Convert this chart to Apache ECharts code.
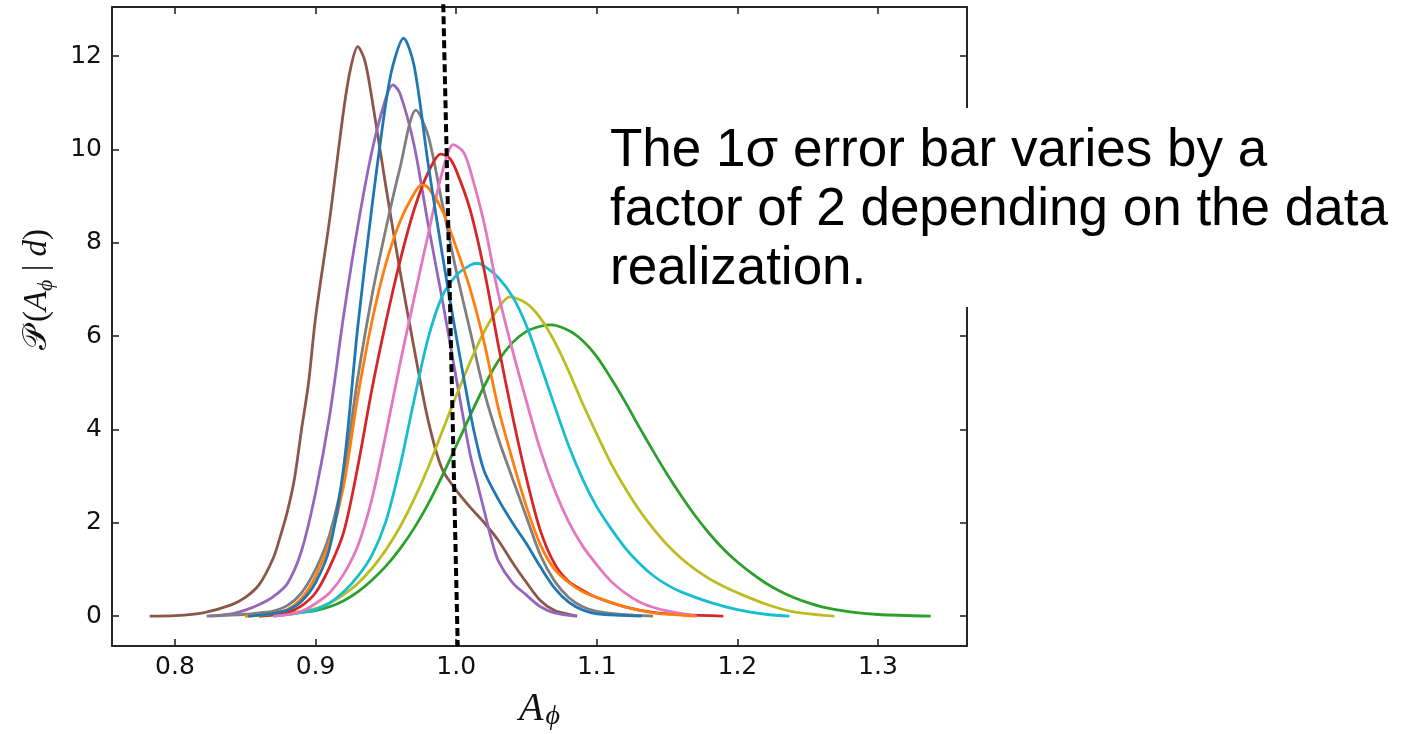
<!DOCTYPE html>
<html>
<head>
<meta charset="utf-8">
<script src="https://cdn.jsdelivr.net/npm/echarts@6/dist/echarts.min.js"></script>
<style>
  html, body { margin: 0; padding: 0; background: #ffffff; }
  #chart { width: 1405px; height: 734px; }
</style>
</head>
<body>
<div id="chart"></div>
<script>
// Tick positions
const xTicks = [0.8, 0.9, 1.0, 1.1, 1.2, 1.3];
const yTicks = [0, 2, 4, 6, 8, 10, 12];

// Posterior curves P(A_phi | d), one per data realization: [A_phi, density]
const curveBrown = [[0.782,0],[0.80,0.01],[0.82,0.07],[0.84,0.24],[0.85,0.4],[0.86,0.68],[0.87,1.25],[0.875,1.72],[0.88,2.25],[0.885,2.95],[0.89,4.0],[0.895,5.0],[0.90,6.4],[0.91,8.5],[0.92,10.85],[0.925,11.75],[0.93,12.2],[0.935,11.9],[0.94,11.1],[0.95,9.2],[0.96,7.4],[0.97,5.75],[0.98,4.2],[0.99,3.15],[1.00,2.7],[1.01,2.33],[1.02,2.0],[1.03,1.62],[1.04,1.15],[1.05,0.72],[1.06,0.33],[1.07,0.12],[1.08,0.04],[1.086,0]];
const curvePurple = [[0.8225,0],[0.84,0.05],[0.85,0.13],[0.86,0.25],[0.87,0.42],[0.88,0.7],[0.89,1.4],[0.90,2.65],[0.91,4.3],[0.92,6.45],[0.93,8.35],[0.94,9.95],[0.95,11.1],[0.955,11.38],[0.96,11.2],[0.97,10.1],[0.98,8.4],[0.99,6.8],[1.00,5.1],[1.01,3.45],[1.015,2.85],[1.02,2.25],[1.025,1.65],[1.03,1.18],[1.04,0.72],[1.05,0.45],[1.06,0.2],[1.07,0.07],[1.085,0]];
const curveGray = [[0.825,0],[0.85,0.04],[0.86,0.07],[0.87,0.11],[0.88,0.23],[0.89,0.5],[0.90,1.0],[0.91,1.75],[0.92,3.05],[0.93,5.1],[0.94,6.85],[0.95,8.3],[0.96,9.6],[0.9714,10.84],[0.98,10.3],[0.99,8.85],[1.00,7.4],[1.01,6.1],[1.02,4.8],[1.03,3.8],[1.04,2.95],[1.05,2.12],[1.06,1.3],[1.07,0.75],[1.08,0.4],[1.09,0.2],[1.10,0.1],[1.12,0.03],[1.14,0]];
const curveGreen = [[0.86,0],[0.88,0.05],[0.90,0.12],[0.91,0.2],[0.92,0.33],[0.93,0.52],[0.94,0.77],[0.95,1.07],[0.96,1.44],[0.97,1.88],[0.98,2.4],[0.99,3.0],[1.00,3.65],[1.01,4.3],[1.02,4.93],[1.03,5.47],[1.04,5.86],[1.05,6.1],[1.06,6.21],[1.067,6.24],[1.08,6.12],[1.09,5.9],[1.10,5.56],[1.11,5.1],[1.12,4.6],[1.13,4.06],[1.14,3.54],[1.15,3.04],[1.16,2.58],[1.17,2.15],[1.18,1.77],[1.19,1.44],[1.20,1.16],[1.21,0.92],[1.22,0.71],[1.23,0.54],[1.24,0.4],[1.25,0.29],[1.26,0.2],[1.28,0.09],[1.30,0.035],[1.3375,0]];
const curveOlive = [[0.85,0],[0.87,0.04],[0.89,0.1],[0.90,0.16],[0.91,0.28],[0.92,0.46],[0.93,0.7],[0.94,1.02],[0.95,1.42],[0.96,1.91],[0.97,2.5],[0.98,3.18],[0.99,3.95],[1.00,4.72],[1.01,5.45],[1.02,6.1],[1.03,6.6],[1.038,6.84],[1.05,6.7],[1.06,6.38],[1.07,5.88],[1.08,5.25],[1.09,4.55],[1.10,3.9],[1.11,3.28],[1.12,2.75],[1.13,2.28],[1.14,1.88],[1.15,1.53],[1.16,1.24],[1.17,1.0],[1.18,0.8],[1.19,0.64],[1.20,0.5],[1.22,0.26],[1.24,0.09],[1.269,0]];
const curveCyan = [[0.87,0],[0.88,0.03],[0.89,0.08],[0.90,0.14],[0.91,0.28],[0.92,0.52],[0.93,0.85],[0.94,1.3],[0.95,2.03],[0.96,3.2],[0.97,4.62],[0.98,5.95],[0.99,6.85],[1.00,7.3],[1.01,7.52],[1.015,7.56],[1.02,7.5],[1.03,7.25],[1.04,6.85],[1.05,6.22],[1.06,5.38],[1.07,4.5],[1.08,3.65],[1.09,2.93],[1.10,2.34],[1.11,1.88],[1.12,1.47],[1.13,1.14],[1.14,0.87],[1.15,0.67],[1.16,0.52],[1.18,0.3],[1.20,0.14],[1.22,0.04],[1.237,0]];
const curveRed = [[0.86,0],[0.87,0.03],[0.88,0.08],[0.89,0.22],[0.90,0.5],[0.91,1.05],[0.92,1.8],[0.93,3.2],[0.94,4.85],[0.95,6.3],[0.96,7.6],[0.97,8.7],[0.98,9.5],[0.989,9.9],[0.995,9.82],[1.00,9.55],[1.01,8.7],[1.02,7.4],[1.03,5.8],[1.04,4.3],[1.05,2.95],[1.06,1.82],[1.07,1.12],[1.08,0.74],[1.09,0.55],[1.10,0.4],[1.12,0.2],[1.14,0.08],[1.16,0.03],[1.19,0]];
const curvePink = [[0.87,0],[0.88,0.03],[0.89,0.1],[0.90,0.27],[0.91,0.5],[0.92,0.9],[0.93,1.5],[0.94,2.5],[0.95,3.9],[0.96,5.4],[0.97,6.8],[0.98,8.17],[0.99,9.5],[0.998,10.1],[1.005,9.95],[1.01,9.55],[1.02,8.4],[1.03,6.9],[1.04,5.7],[1.05,4.6],[1.06,3.55],[1.07,2.7],[1.08,2.02],[1.09,1.5],[1.10,1.1],[1.11,0.75],[1.12,0.5],[1.13,0.31],[1.14,0.19],[1.15,0.11],[1.171,0]];
const curveOrange = [[0.85,0],[0.86,0.02],[0.87,0.06],[0.88,0.14],[0.89,0.38],[0.90,0.85],[0.91,1.6],[0.92,2.8],[0.93,4.7],[0.94,6.3],[0.95,7.55],[0.96,8.45],[0.97,9.05],[0.9755,9.24],[0.98,9.18],[0.99,8.7],[1.00,7.9],[1.01,7.0],[1.02,5.85],[1.03,4.45],[1.04,3.35],[1.05,2.34],[1.06,1.52],[1.07,1.0],[1.08,0.72],[1.09,0.52],[1.10,0.4],[1.12,0.2],[1.14,0.07],[1.16,0.02],[1.17,0]];
const curveBlue = [[0.852,0],[0.86,0.02],[0.87,0.06],[0.88,0.13],[0.89,0.32],[0.90,0.72],[0.91,1.46],[0.92,3.2],[0.93,6.2],[0.94,8.75],[0.95,11.0],[0.955,11.8],[0.9625,12.38],[0.97,11.8],[0.98,9.7],[0.99,7.77],[1.00,6.0],[1.01,4.35],[1.015,3.65],[1.02,3.1],[1.03,2.5],[1.04,2.0],[1.05,1.55],[1.06,1.05],[1.07,0.6],[1.08,0.3],[1.09,0.13],[1.10,0.05],[1.132,0]];

// Fiducial value marker (dotted)
const fiducialLine = [[0.9908, 13.11], [1.0011, -0.64]];

const curves = [
  { data: curveBrown,  color: '#8c564b' },
  { data: curvePurple, color: '#9467bd' },
  { data: curveGray,   color: '#7f7f7f' },
  { data: curveGreen,  color: '#2ca02c' },
  { data: curveOlive,  color: '#bcbd22' },
  { data: curveCyan,   color: '#17becf' },
  { data: curveRed,    color: '#d62728' },
  { data: curvePink,   color: '#e377c2' },
  { data: curveOrange, color: '#ff7f0e' },
  { data: curveBlue,   color: '#1f77b4' }
];

const chart = echarts.init(document.getElementById('chart'), null, { renderer: 'canvas' });

const axisColor = '#262626';
const tickFont = { fontFamily: 'DejaVu Sans', fontSize: 25, color: '#111111' };

const series = curves.map(c => ({
  type: 'line',
  data: c.data,
  showSymbol: false,
  smooth: 0.3,
  lineStyle: { color: c.color, width: 2.8 },
  itemStyle: { color: c.color },
  silent: true
}));

series.push({
  type: 'line',
  data: fiducialLine,
  showSymbol: false,
  clip: false,
  lineStyle: { color: '#000000', width: 4, type: [8, 4], cap: 'butt' },
  silent: true,
  z: 5
});

const option = {
  animation: false,
  backgroundColor: '#ffffff',
  grid: { left: 112, top: 7, width: 855, height: 639, outerBoundsMode: 'none', containLabel: false },
  xAxis: [
    {
      type: 'value', position: 'bottom', min: 0.7552, max: 1.3633,
      axisLine: { show: true, onZero: false, lineStyle: { color: axisColor, width: 2 } },
      axisTick: { show: true, inside: true, length: 7, customValues: xTicks, lineStyle: { color: axisColor, width: 1.6 } },
      axisLabel: { show: true, margin: 9, customValues: xTicks, formatter: v => v.toFixed(1), ...tickFont },
      splitLine: { show: false },
      name: '{a|A}{s|ϕ}',
      nameLocation: 'middle',
      nameGap: 41,
      nameTextStyle: {
        rich: {
          a: { fontFamily: 'Liberation Serif', fontStyle: 'italic', fontSize: 40, lineHeight: 44, color: '#111' },
          s: { fontFamily: 'Liberation Serif', fontStyle: 'italic', fontSize: 28, lineHeight: 26, verticalAlign: 'bottom', color: '#111', padding: [0, 0, 0, 2] }
        }
      }
    },
    {
      type: 'value', position: 'top', min: 0.7552, max: 1.3633,
      axisLine: { show: true, onZero: false, lineStyle: { color: axisColor, width: 2 } },
      axisTick: { show: true, inside: true, length: 7, customValues: xTicks, lineStyle: { color: axisColor, width: 1.6 } },
      axisLabel: { show: false },
      splitLine: { show: false }
    }
  ],
  yAxis: [
    {
      type: 'value', position: 'left', min: -0.64, max: 13.05,
      axisLine: { show: true, onZero: false, lineStyle: { color: axisColor, width: 2 } },
      axisTick: { show: true, inside: true, length: 7, customValues: yTicks, lineStyle: { color: axisColor, width: 1.6 } },
      axisLabel: { show: true, margin: 10, customValues: yTicks, ...tickFont },
      splitLine: { show: false },
      name: '{p|𝒫}{sp| }{t|(}{i|A}{s|ϕ}{t| | }{i|d}{t|)}',
      nameLocation: 'middle',
      nameRotate: 90,
      nameGap: 55,
      nameTextStyle: {
        padding: [0, 0, 0, 74],
        rich: {
          p: { fontFamily: 'DejaVu Serif', fontSize: 33, lineHeight: 40, color: '#111' },
          sp: { fontFamily: 'Liberation Serif', fontSize: 33, lineHeight: 40, width: 4 },
          t: { fontFamily: 'Liberation Serif', fontSize: 33, lineHeight: 40, color: '#111' },
          i: { fontFamily: 'Liberation Serif', fontStyle: 'italic', fontSize: 33, lineHeight: 40, color: '#111' },
          s: { fontFamily: 'Liberation Serif', fontStyle: 'italic', fontSize: 22, lineHeight: 22, verticalAlign: 'bottom', color: '#111' }
        }
      }
    },
    {
      type: 'value', position: 'right', min: -0.64, max: 13.05,
      axisLine: { show: true, onZero: false, lineStyle: { color: axisColor, width: 2 } },
      axisTick: { show: true, inside: true, length: 7, customValues: yTicks, lineStyle: { color: axisColor, width: 1.6 } },
      axisLabel: { show: false },
      splitLine: { show: false }
    }
  ],
  series: series,
  graphic: [
    {
      type: 'group',
      z: 100,
      children: [
        { type: 'rect', shape: { x: 600, y: 108, width: 805, height: 199 }, style: { fill: '#ffffff' }, z: 100 },
        {
          type: 'text', x: 610, y: 122, z: 101,
          style: {
            text: 'The 1σ error bar varies by a\nfactor of 2 depending on the data\nrealization.',
            font: '53px "Liberation Sans", Arial, sans-serif',
            lineHeight: 59,
            fill: '#000000',
            verticalAlign: 'top',
            align: 'left'
          }
        }
      ]
    }
  ]
};

chart.setOption(option);
</script>
</body>
</html>
